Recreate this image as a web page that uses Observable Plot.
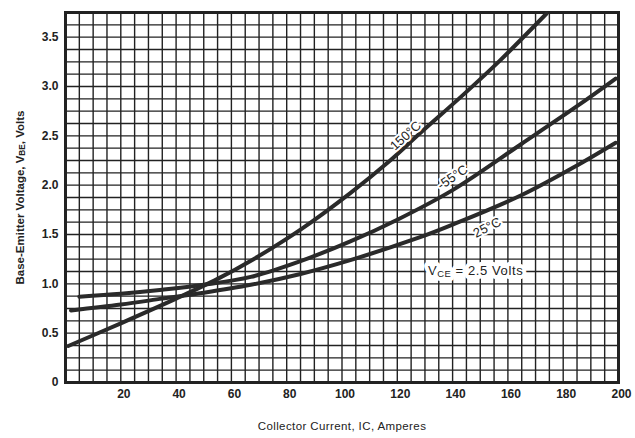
<!DOCTYPE html>
<html>
<head>
<meta charset="utf-8">
<script src="https://cdn.jsdelivr.net/npm/d3@7"></script>
<script src="https://cdn.jsdelivr.net/npm/@observablehq/plot@0.6"></script>
<style>
  html, body { margin: 0; padding: 0; background: #ffffff; }
  #chart { width: 635px; height: 438px; }
</style>
</head>
<body>
<div id="chart"></div>
<script>
// Collector current (A) and base-emitter voltage (V)
const ic150 = [1, 20, 40, 55, 68, 85, 103, 117, 128, 144, 157, 174];
const vbe150 = [0.37, 0.60, 0.85, 1.05, 1.25, 1.55, 1.92, 2.24, 2.52, 2.92, 3.26, 3.74];

const icM55 = [5, 20, 35, 50, 67, 85, 103, 120, 140, 165, 185, 199];
const vbeM55 = [0.87, 0.90, 0.94, 0.99, 1.07, 1.23, 1.43, 1.65, 1.95, 2.42, 2.80, 3.08];

const ic25 = [2, 20, 35, 50, 67, 85, 103, 128, 140, 165, 185, 199];
const vbe25 = [0.73, 0.79, 0.85, 0.91, 0.99, 1.10, 1.24, 1.47, 1.60, 1.90, 2.20, 2.43];

const xTicks = [20, 40, 60, 80, 100, 120, 140, 160, 180, 200];
const yTicks = [0, 0.5, 1.0, 1.5, 2.0, 2.5, 3.0, 3.5];
const xGrid = d3.range(0, 201, 5);
const yGrid = d3.range(0, 3.76, 0.125);

const curveLabels = [
  {text: "150°C", ic: 123.0, vbe: 2.50, angle: -42},
  {text: "-55°C", ic: 140, vbe: 2.08, angle: -34},
  {text: "25°C", ic: 152.5, vbe: 1.57, angle: -27}
];
const noteLabel = {text: "VCE = 2.5 Volts", ic: 148.3, vbe: 1.13};

const toRows = (xs, ys) => xs.map((x, i) => ({ic: x, vbe: ys[i]}));
const s150 = toRows(ic150, vbe150);
const sM55 = toRows(icM55, vbeM55);
const s25 = toRows(ic25, vbe25);

const ink = "#222";
const font = "'Liberation Sans', Arial, sans-serif";

const chart = Plot.plot({
  width: 635,
  height: 438,
  marginLeft: 65,
  marginRight: 17,
  marginTop: 12,
  marginBottom: 56,
  style: {fontFamily: font, background: "#ffffff", color: ink},
  x: {domain: [0, 200]},
  y: {domain: [0, 3.75]},
  marks: [
    Plot.ruleX(xGrid, {stroke: ink, strokeWidth: 1.4}),
    Plot.ruleY(yGrid, {stroke: ink, strokeWidth: 1.4}),
    Plot.frame({stroke: ink, strokeWidth: 3}),
    Plot.line(s150, {x: "ic", y: "vbe", stroke: "#2a2a2a", strokeWidth: 4, curve: "catmull-rom"}),
    Plot.line(sM55, {x: "ic", y: "vbe", stroke: "#2a2a2a", strokeWidth: 4, curve: "catmull-rom"}),
    Plot.line(s25, {x: "ic", y: "vbe", stroke: "#2a2a2a", strokeWidth: 4, curve: "catmull-rom"}),
    ...curveLabels.map(d => Plot.text([d], {
      x: "ic", y: "vbe", text: "text", rotate: d.angle,
      fontSize: 13, fill: ink, stroke: "white", strokeWidth: 4, strokeLinejoin: "round"
    })),
    Plot.text([noteLabel], {
      x: "ic", y: "vbe", text: "text",
      fontSize: 13, fill: ink, stroke: "white", strokeWidth: 8, strokeLinejoin: "round"
    }),
    Plot.axisX(xTicks, {
      tickSize: 0, tickPadding: 7, fontSize: 12, fontWeight: "bold", dx: 3,
      label: "Collector Current, IC, Amperes", labelAnchor: "center", labelOffset: 47, labelArrow: "none"
    }),
    Plot.axisY(yTicks, {
      tickSize: 0, tickPadding: 7, fontSize: 12, fontWeight: "bold",
      tickFormat: d => d === 0 ? "0" : d.toFixed(1),
      label: "Base-Emitter Voltage, VBE, Volts", labelAnchor: "center", labelOffset: 50, labelArrow: "none"
    })
  ]
});

document.getElementById("chart").appendChild(chart);

// Subscripts for VBE and VCE, and axis title styling
function subscript(content, parts, sizePx) {
  d3.select(chart).selectAll("text").filter(function () {
    return this.textContent === content;
  }).each(function () {
    const t = d3.select(this);
    t.text(null);
    parts.forEach(([str, sub]) => {
      const ts = t.append("tspan").text(str);
      if (sub) ts.attr("font-size", sizePx * 0.72).attr("dy", sizePx * 0.12);
      else if (t.selectAll("tspan").size() > 1) ts.attr("dy", -sizePx * 0.12);
    });
  });
}
d3.select(chart).selectAll("text").filter(function () {
  return this.textContent === "Base-Emitter Voltage, VBE, Volts";
}).attr("font-weight", "bold").attr("font-size", 11.5);
d3.select(chart).selectAll("text").filter(function () {
  return this.textContent === "Collector Current, IC, Amperes";
}).attr("font-size", 11.5).attr("font-weight", "normal").style("font-weight", "normal").attr("letter-spacing", 0.4);
subscript("Base-Emitter Voltage, VBE, Volts", [["Base-Emitter Voltage, V", false], ["BE", true], [", Volts", false]], 11.5);
subscript("VCE = 2.5 Volts", [["V", false], ["CE", true], [" = 2.5 Volts", false]], 13);
d3.select(chart).selectAll("text").filter(function () {
  return this.textContent === "VCE = 2.5 Volts";
}).attr("letter-spacing", 0.6);
</script>
</body>
</html>
